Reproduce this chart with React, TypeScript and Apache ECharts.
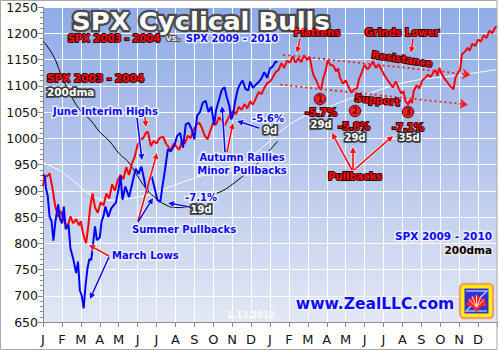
import React, { useEffect, useRef } from "react";
import * as echarts from "echarts";

// ---------- data (x = months since Jan of first year, y = index level) ----------
const monthLabels = ["J","F","M","A","M","J","J","A","S","O","N","D","J","F","M","A","M","J","J","A","S","O","N","D"];

const spx2003: [number, number][] = [
  [0, 909],[0.1, 929],[0.2, 927],[0.35, 933],[0.5, 905],[0.65, 870],[0.8, 850],[0.9, 862],[1.0, 855],[1.15, 840],
  [1.3, 832],[1.45, 851],[1.6, 838],[1.75, 846],[1.9, 834],[2.0, 842],[2.1, 822],[2.2, 808],[2.28, 800],[2.4, 835],
  [2.5, 870],[2.62, 895],[2.75, 868],[2.9, 858],[3.05, 878],[3.2, 872],[3.35, 895],[3.5, 885],[3.65, 912],[3.8, 900],
  [3.95, 920],[4.1, 930],[4.25, 922],[4.4, 945],[4.55, 930],[4.7, 952],[4.85, 965],[5.0, 987],[5.15, 998],[5.3, 1000],
  [5.45, 1011],[5.55, 1012],[5.7, 985],[5.85, 995],[6.0, 990],[6.15, 1000],[6.35, 1003],[6.5, 990],[6.6, 985],[6.75, 976],
  [6.9, 990],[7.05, 984],[7.2, 978],[7.35, 995],[7.5, 990],[7.65, 1005],[7.8, 1000],[7.95, 1015],[8.1, 1025],[8.25, 1030],
  [8.4, 1020],[8.55, 1005],[8.7, 998],[8.85, 1015],[9.0, 1030],[9.15, 1026],[9.3, 1040],[9.45, 1034],[9.6, 1024],[9.75, 1035],
  [9.9, 1045],[10.05, 1052],[10.2, 1046],[10.35, 1060],[10.5, 1054],[10.65, 1065],[10.8, 1057],[10.95, 1070],[11.1, 1064],[11.25, 1076],
  [11.4, 1088],[11.55, 1084],[11.7, 1096],[11.85, 1105],[12.0, 1108],[12.15, 1116],[12.3, 1126],[12.45, 1130],[12.6, 1143],[12.75, 1134],
  [12.9, 1148],[13.05, 1144],[13.2, 1156],[13.35, 1144],[13.5, 1152],[13.65, 1145],[13.8, 1158],[13.95, 1149],[14.1, 1155],[14.2, 1135],
  [14.3, 1120],[14.45, 1110],[14.6, 1096],[14.7, 1092],[14.8, 1112],[14.95, 1130],[15.05, 1148],[15.2, 1140],[15.35, 1138],[15.5, 1127],
  [15.6, 1133],[15.7, 1115],[15.85, 1104],[16.0, 1110],[16.15, 1098],[16.3, 1087],[16.45, 1093],[16.6, 1095],[16.7, 1112],[16.85, 1125],
  [17.0, 1140],[17.15, 1131],[17.3, 1138],[17.45, 1146],[17.6, 1134],[17.75, 1141],[17.9, 1130],[18.05, 1120],[18.2, 1112],[18.35, 1104],
  [18.5, 1097],[18.65, 1108],[18.8, 1095],[18.95, 1085],[19.05, 1090],[19.15, 1071],[19.3, 1064],[19.4, 1073],[19.5, 1067],[19.6, 1090],
  [19.75, 1101],[19.9, 1095],[20.05, 1110],[20.2, 1115],[20.35, 1121],[20.5, 1117],[20.65, 1126],[20.75, 1130],[20.85, 1119],[20.95, 1134],
  [21.05, 1124],[21.2, 1115],[21.35, 1108],[21.5, 1100],[21.6, 1097],[21.7, 1093],[21.8, 1115],[21.95, 1126],[22.05, 1130],[22.15, 1160],
  [22.3, 1165],[22.45, 1172],[22.55, 1167],[22.7, 1180],[22.85, 1176],[23.0, 1188],[23.15, 1184],[23.3, 1196],[23.45, 1191],[23.6, 1205],
  [23.75, 1200],[23.9, 1211],[24.0, 1213],
];

const spx2009: [number, number][] = [
  [0, 931],[0.1, 927],[0.15, 906],[0.25, 890],[0.35, 850],[0.45, 843],[0.55, 805],[0.65, 840],[0.8, 874],[0.9, 846],
  [1.0, 838],[1.1, 870],[1.2, 827],[1.35, 835],[1.45, 790],[1.6, 770],[1.75, 743],[1.85, 765],[1.95, 710],[2.05, 700],
  [2.15, 676],[2.25, 720],[2.35, 752],[2.45, 770],[2.55, 768],[2.65, 800],[2.75, 832],[2.85, 806],[3.0, 811],[3.1, 842],
  [3.2, 852],[3.3, 870],[3.45, 850],[3.6, 866],[3.75, 873],[3.85, 877],[4.0, 904],[4.1, 929],[4.2, 883],[4.35, 908],
  [4.55, 888],[4.75, 919],[4.9, 942],[5.05, 932],[5.2, 946],[5.35, 921],[5.5, 895],[5.6, 919],[5.75, 927],[5.9, 905],
  [6.05, 882],[6.2, 879],[6.3, 905],[6.45, 940],[6.6, 979],[6.75, 975],[6.95, 987],[7.1, 1005],[7.25, 1010],[7.4, 982],
  [7.55, 1027],[7.7, 1029],[7.85, 1018],[8.0, 998],[8.15, 1043],[8.3, 1050],[8.45, 1068],[8.6, 1071],[8.75, 1050],[8.9, 1060],
  [9.05, 1025],[9.15, 1054],[9.3, 1073],[9.45, 1092],[9.6, 1097],[9.7, 1080],[9.85, 1062],[9.95, 1036],[10.05, 1045],[10.15, 1069],
  [10.3, 1094],[10.45, 1105],[10.55, 1110],[10.7, 1094],[10.85, 1091],[10.95, 1108],[11.1, 1096],[11.25, 1102],[11.4, 1107],[11.55, 1114],
  [11.7, 1126],[11.85, 1115],[12.0, 1133],[12.15, 1137],[12.3, 1146],[12.4, 1145],
];

const dma2009: [number, number][] = [
  [0, 1185],[0.5, 1160],[1.0, 1118],[1.5, 1080],[2.0, 1052],[2.5, 1035],[3.0, 1012],[3.5, 995],[4.0, 972],[4.5, 955],
  [5.0, 928],[5.5, 902],[6.0, 885],[6.5, 873],[7.0, 868],[7.5, 868],[8.0, 874],[8.5, 884],[9.0, 893],[9.5, 900],
  [10.0, 912],[10.5, 926],[11.0, 941],[11.5, 958],[12.0, 978],[12.4, 994],
];

const dma2003: [number, number][] = [
  [0, 953],[0.9, 938],[1.6, 919],[2.5, 893],[3.4, 882],[4.5, 885],[5.7, 894],[6.9, 910],[8.0, 924],[9.0, 935],
  [10.0, 948],[11.0, 966],[12.0, 995],[12.7, 1017],[13.6, 1038],[14.5, 1052],[15.4, 1064],[16.3, 1076],[17.2, 1085],[18.2, 1097],
  [19.8, 1111],[21.5, 1118],[23.3, 1127],[24.0, 1131],
];

// trend channel (resistance / support) endpoints, in data units
const resistanceLine: [number, number][] = [[12.7, 1159],[22.6, 1121]];
const supportLine: [number, number][] = [[12.55, 1102],[22.45, 1064]];

// ---------- helpers ----------
const FONT = '"DejaVu Sans", Verdana, sans-serif';
const RED = "#ff0a0a";
const BLUE = "#0a0aff";

type Kind = "red" | "blue" | "white" | "black" | "title" | "vs" | "date";
const styles: Record<Kind, { fill: string; stroke: string; lw: number; shadow: string }> = {
  red: { fill: RED, stroke: "#3a0505", lw: 2.2, shadow: "rgba(80,80,80,0.7)" },
  blue: { fill: BLUE, stroke: "#eef0fa", lw: 3, shadow: "rgba(60,60,60,0.6)" },
  white: { fill: "#ffffff", stroke: "#3a3a3a", lw: 3.5, shadow: "rgba(0,0,0,0.4)" },
  black: { fill: "#000000", stroke: "#e4e4e4", lw: 3.5, shadow: "rgba(0,0,0,0.5)" },
  title: { fill: "#ffffff", stroke: "#4a4a4a", lw: 4.5, shadow: "rgba(0,0,0,0.5)" },
  vs: { fill: "#e8e8e8", stroke: "#555555", lw: 2.2, shadow: "rgba(0,0,0,0.3)" },
  date: { fill: "rgba(255,255,255,0.9)", stroke: "rgba(255,255,255,0)", lw: 0, shadow: "rgba(0,0,0,0)" },
};

function label(text: string, x: number, y: number, kind: Kind, size: number, align = "center", rotation = 0, scaleX = 1): any[] {
  const s = styles[kind];
  const base = {
    text,
    font: `bold ${size}px ${FONT}`,
    align,
    textAlign: align,
    verticalAlign: "middle",
    textVerticalAlign: "middle",
  };
  const out: any[] = [];
  if (s.lw > 0) {
    out.push({
      type: "text", x, y, rotation, scaleX, z: 100, silent: true,
      style: { ...base, fill: s.stroke, stroke: s.stroke, lineWidth: s.lw, lineJoin: "round", shadowBlur: 3, shadowColor: s.shadow, shadowOffsetX: 1, shadowOffsetY: 1 },
    });
  }
  out.push({ type: "text", x, y, rotation, scaleX, z: 101, silent: true, style: { ...base, fill: s.fill } });
  return out;
}

function arrow(x1: number, y1: number, x2: number, y2: number, color: string, halo: string): any[] {
  const a = Math.atan2(y2 - y1, x2 - x1);
  const L = 6, W = 3;
  const c = Math.cos(a), s = Math.sin(a);
  const bx = x2 - L * c, by = y2 - L * s;
  const head = [[x2, y2], [bx - W * s, by + W * c], [bx + W * s, by - W * c]];
  return [
    { type: "line", z: 98, silent: true, shape: { x1, y1, x2: bx, y2: by }, style: { stroke: halo, lineWidth: 3.2 } },
    { type: "polygon", z: 98, silent: true, shape: { points: head }, style: { fill: halo, stroke: halo, lineWidth: 1.5 } },
    { type: "line", z: 99, silent: true, shape: { x1, y1, x2: bx, y2: by }, style: { stroke: color, lineWidth: 1.6 } },
    { type: "polygon", z: 99, silent: true, shape: { points: head }, style: { fill: color } },
  ];
}

function circledNum(n: string, x: number, y: number): any[] {
  return [
    { type: "circle", z: 100, silent: true, shape: { cx: x, cy: y, r: 5.5 }, style: { fill: "#ff2020", stroke: "#5a0000", lineWidth: 1, shadowBlur: 2, shadowColor: "rgba(0,0,0,0.4)" } },
    { type: "text", x, y: y + 0.5, z: 101, silent: true, style: { text: n, font: `bold 8px ${FONT}`, fill: "#6a0000", align: "center", verticalAlign: "middle", textAlign: "center", textVerticalAlign: "middle" } },
  ];
}

function logo(): any[] {
  const cx = 476.5, cy = 304;
  const ribs: any[] = [];
  for (let i = 1; i < 6; i++) {
    const ang = Math.PI + (i * Math.PI) / 6;
    ribs.push({ type: "line", z: 103, silent: true, shape: { x1: cx, y1: cy + 3, x2: cx + 9 * Math.cos(ang), y2: cy + 9 * Math.sin(ang) }, style: { stroke: "#ffffff", lineWidth: 0.8 } });
  }
  return [
    { type: "rect", z: 100, silent: true, shape: { x: 460, y: 284, width: 33, height: 34, r: 4 }, style: { fill: "#fff200", stroke: "#f2a070", lineWidth: 2.5 } },
    { type: "rect", z: 101, silent: true, shape: { x: 464.5, y: 288.5, width: 24, height: 25 }, style: { fill: "#3030d8" } },
    { type: "polyline", z: 102, silent: true, shape: { points: [[466, 291], [487, 291], [466, 311], [487, 311]] }, style: { stroke: "#a8b4ff", lineWidth: 1.6, fill: "none" } },
    { type: "sector", z: 102, silent: true, shape: { cx, cy: cy + 2, r: 10, r0: 0, startAngle: Math.PI, endAngle: 2 * Math.PI }, style: { fill: "#ff2626" } },
    ...ribs,
    { type: "polygon", z: 102, silent: true, shape: { points: [[471, 306], [482, 306], [476.5, 312]] }, style: { fill: "#ff2626" } },
  ];
}

export default function App() {
  const ref = useRef<HTMLDivElement>(null);

  useEffect(() => {
    if (!ref.current) return;
    const chart = echarts.init(ref.current, undefined, { renderer: "svg" });

    const graphicEls: any[] = [
      // outer frame
      { type: "rect", z: 200, silent: true, shape: { x: 0.5, y: 0.5, width: 496.5, height: 349 }, style: { fill: "none", stroke: "#a8a8a8", lineWidth: 1 } },
      // title block
      ...label("SPX Cyclical Bulls", 201, 22, "title", 24, "center", 0, 1.08),
      ...label("SPX 2003 - 2004", 114, 38, "red", 10),
      ...label("vs.", 173, 38, "vs", 9),
      ...label("SPX 2009 - 2010", 232, 38, "blue", 10),
      // left legend
      ...label("SPX 2003 - 2004", 47, 78, "red", 10.5, "left"),
      ...label("200dma", 47, 92, "white", 10.5, "left"),
      // 2009 annotations
      ...arrow(137, 118, 142, 160, BLUE, "rgba(255,255,255,0.7)"),
      ...arrow(145, 117, 146, 127, RED, "rgba(255,255,255,0.6)"),
      ...label("June Interim Highs", 53, 111, "blue", 10, "left"),
      ...arrow(109, 256, 89, 245, RED, "rgba(255,255,255,0.6)"),
      ...arrow(109, 257, 90, 299, BLUE, "rgba(255,255,255,0.7)"),
      ...label("March Lows", 112, 255, "blue", 10, "left"),
      ...arrow(138, 221, 157, 153, RED, "rgba(255,255,255,0.6)"),
      ...arrow(138, 222, 153, 198, BLUE, "rgba(255,255,255,0.7)"),
      ...label("Summer Pullbacks", 132, 229, "blue", 10, "left"),
      ...arrow(190, 207, 168, 203, BLUE, "rgba(255,255,255,0.7)"),
      ...label("-7.1%", 201, 197, "blue", 10),
      ...label("19d", 201, 209, "white", 10),
      ...arrow(225, 152, 222, 106, BLUE, "rgba(255,255,255,0.7)"),
      ...arrow(227, 152, 233, 123, RED, "rgba(255,255,255,0.6)"),
      ...label("Autumn Rallies", 242, 157, "blue", 10),
      ...label("Minor Pullbacks", 242, 170, "blue", 10),
      ...arrow(259, 128, 237, 121, BLUE, "rgba(255,255,255,0.7)"),
      ...label("-5.6%", 268, 118, "blue", 10),
      ...label("9d", 270, 130, "white", 10),
      // 2004 annotations
      ...arrow(300, 39, 297, 53, RED, "rgba(255,255,255,0.6)"),
      ...label("Flattens", 317, 32, "red", 10),
      ...arrow(413, 39, 411, 53, RED, "rgba(255,255,255,0.6)"),
      ...label("Grinds Lower", 402, 32, "red", 10),
      ...label("Resistance", 402, 59, "red", 10, "center", -0.15),
      ...label("Support", 377, 100, "red", 10, "center", -0.1),
      ...circledNum("1", 320, 99),
      ...circledNum("2", 355, 111),
      ...circledNum("3", 408, 112),
      ...label("-5.7%", 321, 112, "red", 10),
      ...label("29d", 321, 124, "white", 10),
      ...label("-5.8%", 354, 126, "red", 10),
      ...label("29d", 355, 137, "white", 10),
      ...label("-7.1%", 408, 127, "red", 10),
      ...label("35d", 409, 137, "white", 10),
      ...arrow(352, 170, 332, 133, RED, "rgba(255,255,255,0.6)"),
      ...arrow(353, 170, 353, 147, RED, "rgba(255,255,255,0.6)"),
      ...arrow(354, 170, 393, 136, RED, "rgba(255,255,255,0.6)"),
      ...label("Pullbacks", 355, 176, "red", 10),
      // bottom right
      ...label("SPX 2009 - 2010", 492, 236, "blue", 10.5, "right"),
      ...label("200dma", 492, 250, "black", 10.5, "right"),
      ...label("www.ZealLLC.com", 375, 304, "blue", 15.5),
      ...label("1.13.2010", 251, 315, "date", 8.5),
      ...logo(),
    ];

    const lineSeries = (name: string, data: [number, number][], color: string, width: number, z: number, smooth = false): any => ({
      name, type: "line", data, showSymbol: false, symbol: "none", smooth, z,
      lineStyle: { color, width }, itemStyle: { color }, silent: true,
    });

    chart.setOption({
      animation: false,
      backgroundColor: "#ffffff",
      grid: {
        left: 43, right: 3, top: 7, bottom: 28,
        show: true, borderWidth: 0,
        backgroundColor: new echarts.graphic.LinearGradient(0, 0, 0, 1, [
          { offset: 0, color: "#8fabe7" },
          { offset: 0.5, color: "#b7c7ec" },
          { offset: 1, color: "#e2e8f4" },
        ]),
        outerBoundsMode: "none",
        containLabel: false,
      },
      xAxis: {
        type: "value", min: 0, max: 24, interval: 1,
        axisLine: { show: true, onZero: false, lineStyle: { color: "#8a8a8a", width: 1 } },
        axisTick: { show: true, length: 5, lineStyle: { color: "#8a8a8a" } },
        axisLabel: {
          formatter: (v: number) => monthLabels[Math.round(v)] ?? "",
          color: "#111", fontSize: 13, fontFamily: FONT, margin: 11,
        },
        splitLine: { show: true, lineStyle: { color: "#ffffff", width: 1 } },
      },
      yAxis: {
        type: "value", min: 650, max: 1250, interval: 50,
        axisLine: { show: true, lineStyle: { color: "#8a8a8a", width: 1 } },
        axisTick: { show: true, length: 5, lineStyle: { color: "#8a8a8a" } },
        minorTick: { show: true, splitNumber: 5, length: 3, lineStyle: { color: "#8a8a8a" } },
        axisLabel: {
          formatter: (v: number) => String(Math.round(v)),
          color: "#111", fontSize: 12.5, fontFamily: FONT, margin: 5, lineHeight: 10,
        },
        splitLine: { show: true, lineStyle: { color: "#ffffff", width: 1 } },
      },
      series: [
        lineSeries("SPX 2003-2004 200dma", dma2003, "#ffffff", 1, 3, true),
        lineSeries("SPX 2009-2010 200dma", dma2009, "#000000", 1, 3, true),
        {
          ...lineSeries("SPX 2003-2004", spx2003, "#ff0000", 2, 4),
          markLine: {
            silent: true, symbol: ["none", "arrow"], symbolSize: 8,
            label: { show: false },
            lineStyle: { color: "#ff1a1a", type: [2, 3], width: 1.8 },
            data: [
              [{ coord: resistanceLine[0] }, { coord: resistanceLine[1] }],
              [{ coord: supportLine[0] }, { coord: supportLine[1] }],
            ],
          },
        },
        lineSeries("SPX 2009-2010", spx2009, "#0000ff", 2, 5),
      ],
      graphic: { elements: graphicEls },
    });

    return () => chart.dispose();
  }, []);

  return (
    <div
      ref={ref}
      style={{ position: "fixed", left: 0, top: 0, width: 500, height: 350, background: "#fff" }}
    />
  );
}
